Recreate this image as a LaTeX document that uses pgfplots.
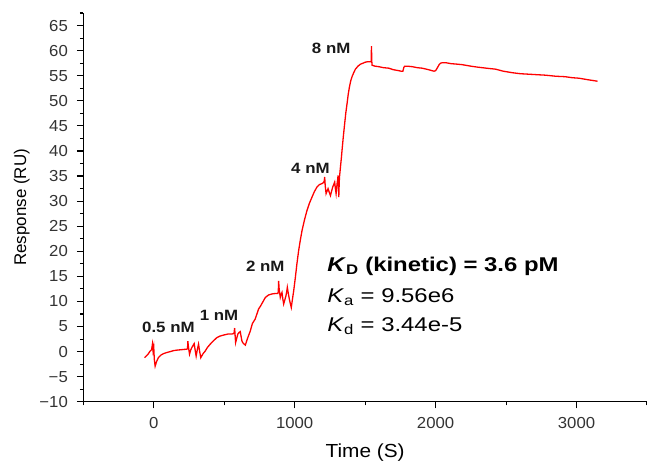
\documentclass[border=0pt]{standalone}
\usepackage{pgfplots}
\pgfplotsset{compat=1.18}
\usepackage{fontspec}
\setmainfont{Liberation Sans}
\begin{document}
\begin{tikzpicture}
\begin{axis}[
  name=ax,
  width=564bp, height=389bp, scale only axis,
  xmin=-500, xmax=3500, ymin=-10, ymax=67.5,
  axis x line=bottom, axis y line=left,
  axis line style={line width=1.2bp, -},
  xtick={0,1000,2000,3000},
  minor xtick={-500,500,1500,2500,3500},
  ytick={-10,-5,0,5,10,15,20,25,30,35,40,45,50,55,60,65},
  yticklabels={−10,−5,0,5,10,15,20,25,30,35,40,45,50,55,60,65},
  minor ytick={-7.5,-2.5,2.5,7.5,12.5,17.5,22.5,27.5,32.5,37.5,42.5,47.5,52.5,57.5,62.5,67.5},
  tick align=outside,
  major tick length=6.5bp, minor tick length=3.5bp,
  every tick/.style={line width=1.1bp, black},
  every minor tick/.style={line width=1.1bp, black},
  ticklabel style={font=\fontsize{16}{19}\selectfont, text=black!80, xscale=1.05},
  xticklabel style={yshift=-6bp},
  yticklabel style={xshift=-5bp},
  /pgf/number format/assume math mode=true,
  /pgf/number format/1000 sep={},
  xlabel={Time (S)}, ylabel={Response (RU)},
  xlabel style={at={(axis description cs:0.5,-0.1303)}, anchor=center, font=\fontsize{19}{22}\selectfont, xscale=1.1},
  ylabel style={at={(axis description cs:-0.1092,0.5)}, anchor=center, font=\fontsize{17}{20}\selectfont},
  clip=false,
]
\addplot[red, line width=1.3bp] table {
x y
-65 -1.2
-40 -0.5
-26 0.1
-15 0.4
-9 1.5
-5 0.2
0 1.0
4 -1.5
10 -2.9
20 -2.0
33 -1.2
50 -0.7
69 -0.4
90 -0.2
116 0.0
140 0.2
164 0.3
200 0.4
235 0.5
240 0.6
242 2.1
246 1.0
254 -0.5
262 0.3
270 0.8
287 1.6
294 0.3
301 -0.9
310 0.5
318 1.5
326 0.0
334 -1.2
350 -0.4
365 0.1
380 0.8
401 1.5
425 2.2
448 2.8
470 3.1
495 3.3
525 3.5
554 3.5
566 3.6
570 3.7
574 4.7
578 3.0
581 1.8
590 2.8
597 3.5
605 3.8
614 4.0
620 3.0
626 2.1
634 1.7
642 1.5
650 1.3
665 2.6
685 4.1
700 5.6
720 6.5
744 8.5
756 9.0
780 10.2
792 10.8
815 11.3
839 11.5
865 11.6
881 11.6
884 12.0
886 14.1
890 12.5
898 10.8
904 11.4
910 11.8
916 10.5
922 9.5
930 10.3
938 11.1
944 12.0
948 12.8
955 11.6
962 10.5
970 9.5
976 8.8
983 10.2
993 12.1
1005 14.8
1016 17.5
1028 20.1
1040 22.2
1052 24.1
1070 26.3
1087 28.1
1105 29.6
1123 30.8
1140 31.9
1158 32.8
1176 33.3
1194 33.5
1205 33.7
1210 34.0
1213 34.8
1217 33.0
1223 31.5
1230 32.0
1237 32.5
1245 31.8
1254 31.1
1262 32.0
1270 32.8
1277 33.3
1284 33.8
1289 32.5
1294 31.5
1298 32.6
1301 33.5
1305 34.3
1308 35.1
1311 33.0
1313 30.8
1316 33.5
1318 34.8
1325 36.8
1332 38.8
1336 40.1
1345 42.8
1355 45.5
1363 47.6
1372 49.5
1380 51.3
1389 52.8
1398 54.0
1407 54.8
1419 55.6
1431 56.3
1449 56.9
1467 57.3
1485 57.5
1502 57.7
1520 57.8
1538 57.8
1543 57.9
1545 60.9
1547 58.0
1549 57.1
1570 56.9
1597 56.8
1630 56.6
1668 56.5
1700 56.2
1739 56.0
1755 55.9
1768 55.9
1774 56.6
1780 56.9
1800 56.9
1834 56.8
1870 56.6
1905 56.5
1950 56.2
1988 55.9
2000 56.0
2011 56.5
2025 57.2
2035 57.5
2050 57.6
2071 57.6
2110 57.4
2154 57.3
2189 57.2
2250 56.9
2300 56.7
2360 56.5
2426 56.3
2480 55.9
2544 55.6
2600 55.4
2660 55.3
2720 55.2
2782 55.1
2850 54.9
2920 54.8
2970 54.6
3018 54.5
3080 54.2
3149 53.9
};
\node[font=\bfseries\fontsize{15}{18}\selectfont, text=black!90, xscale=1.13] at (axis cs:104,4.8) {0.5 nM};
\node[font=\bfseries\fontsize{15}{18}\selectfont, text=black!90, xscale=1.13] at (axis cs:463,7.3) {1 nM};
\node[font=\bfseries\fontsize{15}{18}\selectfont, text=black!90, xscale=1.13] at (axis cs:792,17.1) {2 nM};
\node[font=\bfseries\fontsize{15}{18}\selectfont, text=black!90, xscale=1.13] at (axis cs:1112,36.5) {4 nM};
\node[font=\bfseries\fontsize{15}{18}\selectfont, text=black!90, xscale=1.13] at (axis cs:1259,60.5) {8 nM};
\node[anchor=west, inner sep=0pt, font=\fontsize{20}{24}\selectfont, xscale=1.2] at (axis cs:1230,17.1) {\textbf{\textit{K}\textsubscript{D} (kinetic) = 3.6 pM}};
\node[anchor=west, inner sep=0pt, font=\fontsize{20}{24}\selectfont, xscale=1.2] at (axis cs:1230,10.8) {\textit{K}\textsubscript{a} = 9.56e6};
\node[anchor=west, inner sep=0pt, font=\fontsize{20}{24}\selectfont, xscale=1.2] at (axis cs:1230,5.1) {\textit{K}\textsubscript{d} = 3.44e-5};
\end{axis}
\pgfresetboundingbox
\path[use as bounding box] ([xshift=-83.3bp,yshift=-61bp]ax.south west) rectangle ([yshift=13bp]ax.north east);
\end{tikzpicture}
\end{document}
